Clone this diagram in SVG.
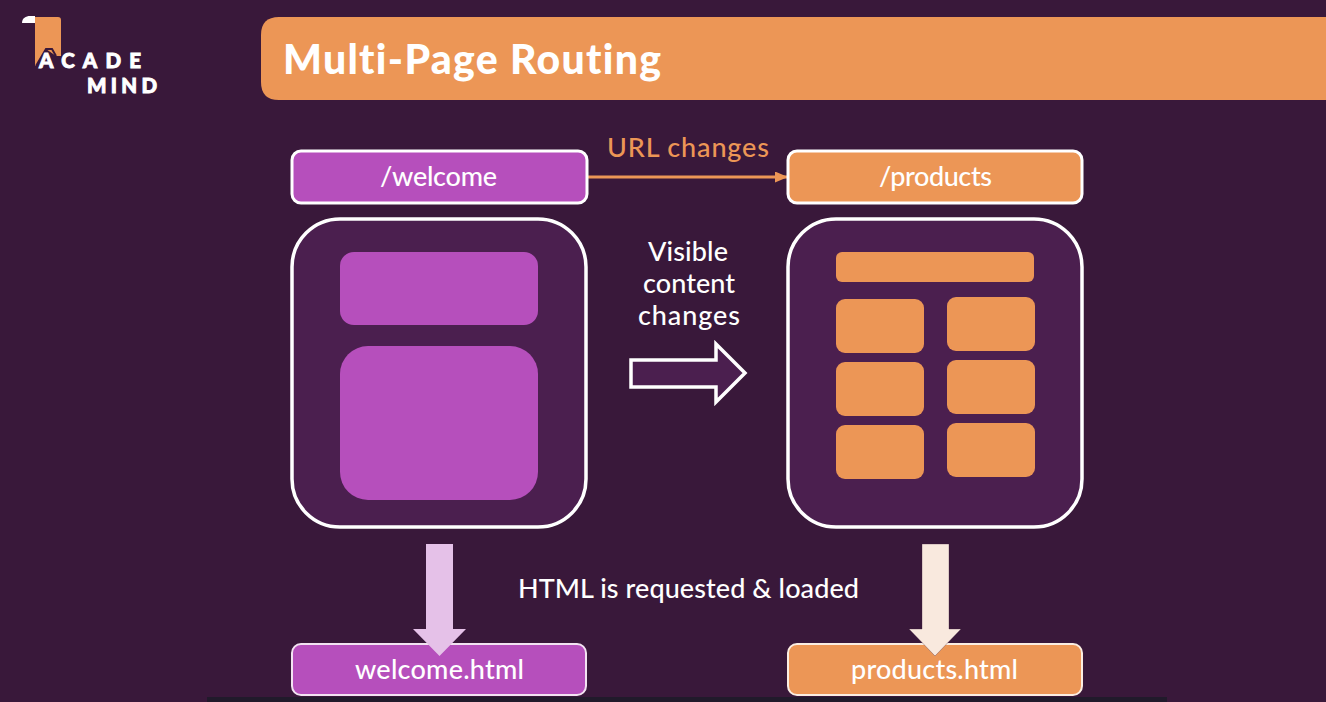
<svg xmlns="http://www.w3.org/2000/svg" width="1326" height="702" viewBox="0 0 1326 702">
<style>
text{font-family:"Lato","Open Sans","Liberation Sans",sans-serif;fill:#fff;text-anchor:middle;font-variant-ligatures:none}
.label{font-size:27px;font-weight:500}
.edge{stroke:#fff;stroke-width:3}
.pur{fill:#b64fbc}
.org{fill:#ec9656}
.frame{fill:#4b1f4f;stroke:#fff;stroke-width:3.500}
.logo{font-weight:900;font-size:20.500px;text-anchor:start;stroke:#fff;stroke-width:.9px}
</style>
<defs>
<marker id="tip" markerWidth="13" markerHeight="11" refX="12" refY="5.500" orient="auto" markerUnits="userSpaceOnUse"><path d="M0 0L13 5.500L0 11Z" fill="#ec9656"/></marker>
</defs>
<rect width="1326" height="702" fill="#39183a"/>
<rect x="207" y="697" width="960" height="5" fill="#211a2b"/>

<g id="logo">
<path d="M22 23C22 18 26 16 30 16L35 16V23Z" fill="#fff"/>
<path d="M35 17H58Q61 17 61 20V56H56L46 49L36 66H35Z" fill="#ec9656"/>
<path d="M36 66L46 49H52L56 56" fill="none" stroke="#39183a" stroke-width="2"/>
<text class="logo" x="39" y="68" textLength="102">ACADE</text>
<text class="logo" x="87" y="93" textLength="70">MIND</text>
</g>

<g id="title">
<path d="M1326 17H279Q261 17 261 35V82Q261 100 279 100H1326Z" class="org"/>
<text x="283" y="74" textLength="378" style="font-size:41px;font-weight:900;text-anchor:start">Multi-Page Routing</text>
</g>

<g id="connectors">
<path d="M587 177H787" stroke="#ec9656" stroke-width="3" fill="none" marker-end="url(#tip)"/>
<path d="M631 360H716V344L745 373L716 402V387H631Z" fill="#4b1f4f" stroke="#fff" stroke-width="3.500"/>
</g>

<g id="url-label"><text x="688" y="157" textLength="162" style="font-size:27px;font-weight:500;fill:#ec9656">URL changes</text></g>

<g id="route-welcome">
<rect x="292" y="151" width="295" height="52" rx="9" class="pur edge"/>
<text class="label" x="438.500" y="186" textLength="117">/welcome</text>
</g>
<g id="route-products">
<rect x="788" y="151" width="294" height="52" rx="9" class="org edge"/>
<text class="label" x="935.500" y="186" textLength="113">/products</text>
</g>

<g id="page-welcome">
<rect x="292" y="219" width="294" height="308" rx="48" class="frame"/>
<rect x="340" y="252" width="198" height="73" rx="14" class="pur"/>
<rect x="340" y="346" width="198" height="154" rx="28" class="pur"/>
</g>

<g id="page-products">
<rect x="788" y="219" width="294" height="308" rx="48" class="frame"/>
<rect x="836" y="252" width="198" height="30" rx="6" class="org"/>
<rect x="836" y="299" width="88" height="54" rx="9" class="org"/>
<rect x="836" y="362" width="88" height="54" rx="9" class="org"/>
<rect x="836" y="425" width="88" height="54" rx="9" class="org"/>
<rect x="947" y="297" width="88" height="54" rx="9" class="org"/>
<rect x="947" y="360" width="88" height="54" rx="9" class="org"/>
<rect x="947" y="423" width="88" height="54" rx="9" class="org"/>
</g>

<g id="visible-label">
<text class="label" x="688" y="261" textLength="80">Visible</text>
<text class="label" x="689" y="293" textLength="92">content</text>
<text class="label" x="689" y="325" textLength="102">changes</text>
</g>
<g id="load-label"><text class="label" x="688.500" y="598" textLength="341">HTML is requested &amp; loaded</text></g>

<g id="file-welcome">
<rect x="292" y="644" width="294" height="51" rx="9" class="pur" stroke="#f3e3f2" stroke-width="2"/>
<text class="label" x="439.500" y="679" textLength="169">welcome.html</text>
</g>
<g id="file-products">
<rect x="788" y="644" width="294" height="51" rx="9" class="org" stroke="#fbeee2" stroke-width="2"/>
<text class="label" x="934.500" y="679" textLength="167">products.html</text>
</g>

<g id="load-arrows">
<path d="M426 544H453V629H466L439.500 656L413 629H426Z" fill="#e5c1e8"/>
<path d="M922 544H949V629H961L935 656L909 629H922Z" fill="#f9e9de" stroke="#39183a" stroke-opacity=".4" stroke-width=".8"/>
</g>
</svg>
